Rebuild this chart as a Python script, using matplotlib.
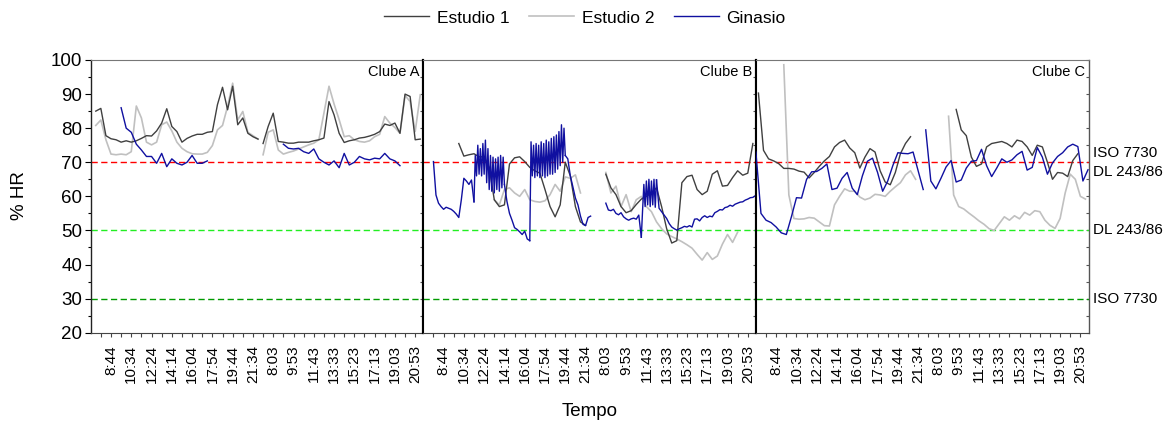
import numpy as np
import matplotlib
matplotlib.use("Agg")
import matplotlib.pyplot as plt
from matplotlib.ticker import MultipleLocator, FixedLocator
from matplotlib.transforms import blended_transform_factory

plt.rcParams["font.family"] = ["Liberation Sans", "DejaVu Sans"]

# clock labels under each panel (two days of logging, nights left out)
hours = ["8:44", "10:34", "12:24", "14:14", "16:04", "17:54", "19:44", "21:34",
         "8:03", "9:53", "11:43", "13:33", "15:23", "17:13", "19:03", "20:53"]
clubs = ["Clube A", "Clube B", "Clube C"]
series = ["Estudio 1", "Estudio 2", "Ginasio"]

# Relative humidity (%). Every logging run is (time of first reading in tick
# units from the panel's left edge, readings every half tick); runs with three
# entries give their own reading interval.
est1_a = [(0.5, [85.0, 85.8, 77.8, 76.9, 76.6, 75.9, 76.3, 75.9, 76.3, 77.0, 77.8,
                 77.7, 79.2, 81.5, 85.7, 80.5, 79.0, 75.9, 77.0, 77.7, 78.2, 78.2,
                 78.8, 79.0, 86.9, 92.0, 85.4, 92.3, 81.0, 83.0, 78.5, 77.5, 76.8]),
          (17.0, [75.5, 80.5, 84.4, 76.1, 75.9, 75.6, 75.6, 75.9, 75.9, 75.9, 76.3,
                  76.6, 77.1, 87.8, 83.9, 78.5, 75.8, 76.3, 76.6, 77.1, 77.3, 77.7,
                  78.2, 79.0, 81.2, 80.8, 81.5, 78.5, 90.0, 89.3, 76.6, 76.8])]
est2_a = [(0.5, [80.8, 82.4, 76.6, 72.4, 72.2, 72.4, 72.2, 73.1, 86.5, 83.0, 75.9,
                 75.1, 75.9, 81.0, 81.8, 79.2, 75.9, 74.1, 73.1, 72.5, 72.4, 72.4,
                 72.9, 74.9, 79.5, 80.8, 86.4, 93.2, 82.4, 84.9, 78.8, 77.8, 76.8]),
          (17.0, [72.2, 78.8, 79.5, 73.6, 72.4, 72.9, 73.3, 73.9, 74.5, 75.1, 75.6,
                  76.6, 84.4, 92.3, 87.1, 82.5, 77.5, 77.8, 76.6, 76.1, 75.9, 76.3,
                  77.5, 78.2, 83.4, 81.5, 80.2, 78.5, 89.6, 87.8, 79.0, 89.8])]
gin_a = [(3.0, [86.0, 80.0, 78.8, 75.3, 73.6, 71.7, 71.7, 69.7, 72.6, 68.7, 71.0,
                69.7, 69.2, 70.0, 72.0, 69.7, 69.7, 70.4]),
         (19.0, [75.3, 74.1, 73.9, 74.1, 73.1, 72.6, 73.9, 71.0, 70.0, 69.2, 70.4,
                 68.4, 72.6, 69.2, 70.0, 71.7, 71.0, 70.7, 71.2, 71.0, 72.6, 71.0,
                 70.4, 69.0])]

est1_b = [(3.5, [75.5, 71.8, 72.2, 72.5, 71.6, 71.6, 68.5, 59.0, 57.0, 57.5, 69.5,
                 71.3, 71.6, 70.2, 68.5, 67.5, 66.8, 62.0, 57.0, 54.0, 57.5, 70.0,
                 66.0, 57.0, 52.5, 51.5]),
          (18.0, [66.5, 62.5, 60.5, 57.0, 55.2, 55.8, 57.6, 59.2, 60.0, 61.0, 62.5,
                  57.0, 50.5, 46.3, 47.0, 64.0, 65.8, 66.2, 62.0, 60.5, 61.5, 66.5,
                  67.5, 63.0, 63.2, 65.5, 67.5, 66.2, 66.8, 75.5])]
est2_b = [(7.0, [59.0, 57.5, 62.0, 62.5, 61.0, 60.0, 62.0, 59.0, 58.5, 58.3, 58.7,
                 60.5, 63.5, 61.5, 65.7, 65.3, 66.3, 61.0]),
          (18.0, [67.0, 61.0, 63.0, 57.0, 60.5, 55.5, 59.0, 60.0, 57.0, 55.5, 52.5,
                  50.5, 49.0, 48.2, 47.5, 46.7, 45.8, 44.8, 43.0, 41.3, 43.5, 41.5,
                  42.5, 46.0, 48.8, 46.5, 49.5])]
# Ginasio B: finer readings where the humidity swings quickly
gin_b = [(1.0, 0.25, [70.2, 60.4, 58.0, 57.0, 56.2, 56.8, 56.5, 56.2, 55.6, 54.8,
                      53.8, 59.0, 65.3, 64.5, 63.5, 64.8, 58.4]),
         (5.0, 0.125, [58.4, 72.0, 66.0, 75.0, 66.5, 74.0, 66.0, 75.5, 66.5, 76.5,
                       64.0, 74.0, 62.0, 72.0, 61.5, 71.5, 61.0, 71.0, 62.0, 71.5,
                       61.5, 72.0, 62.5, 71.5, 63.5]),
         (8.0, 0.25, [63.5, 58.5, 55.0, 53.0, 50.8, 50.3, 49.6, 48.8, 49.8, 47.5,
                      47.0]),
         (10.5, 0.125, [47.0, 76.0, 66.0, 75.0, 65.5, 75.5, 66.0, 75.0, 65.5, 76.0,
                        66.0, 75.5, 65.5, 76.5, 66.0, 76.0, 66.5, 77.0, 66.5, 77.5,
                        67.0, 78.0, 68.0, 79.0, 69.0, 81.0, 70.0, 80.0, 72.0]),
         (14.0, 0.25, [72.0, 71.0, 66.0, 62.8, 59.5, 57.5, 54.2, 51.8, 51.4, 53.8,
                       54.2]),
         (18.0, 0.25, [58.0, 56.0, 55.8, 56.2, 55.0, 54.6, 55.2, 54.0, 53.4, 53.0,
                       53.4, 53.6, 53.3, 54.5, 48.0]),
         (21.5, 0.125, [48.0, 56.0, 63.5, 57.0, 64.5, 57.5, 65.0, 57.0, 64.5, 57.5,
                        65.0, 56.8, 64.8]),
         (23.0, 0.25, [64.8, 56.5, 55.5, 54.5, 53.5, 52.0, 51.0, 50.5, 50.1, 50.5,
                       50.8, 51.2, 51.0, 51.4, 51.0, 53.3, 53.4, 52.8, 53.8, 54.3,
                       53.8, 54.2, 54.0, 55.2, 55.6, 56.1, 56.0, 56.7, 56.9, 57.4,
                       57.1, 57.7, 58.0, 58.3, 58.4, 58.9, 59.2, 59.6, 59.7, 60.2])]

est1_c = [(0.25, [90.3, 73.5, 71.0, 70.4, 69.6, 68.2, 68.2, 68.0, 67.4, 67.1, 65.4,
                  67.0, 68.8, 70.4, 71.7, 74.5, 75.8, 76.5, 74.2, 72.8, 68.3, 71.5,
                  74.0, 73.0, 67.5, 64.2, 63.4, 67.0, 72.5, 75.5, 77.5]),
          (19.75, [85.5, 79.5, 77.8, 71.5, 68.8, 69.5, 74.5, 75.5, 75.8, 76.1, 75.5,
                   74.5, 76.5, 76.1, 74.5, 72.0, 75.0, 74.5, 70.0, 65.0, 67.0, 66.8,
                   65.8, 70.5, 72.5])]
est2_c = [(2.75, [98.6, 60.4, 53.5, 53.3, 53.4, 53.8, 53.6, 52.5, 51.4, 51.3, 57.5,
                  60.0, 62.2, 61.5, 61.5, 59.8, 59.0, 59.5, 60.6, 60.4, 60.0, 61.5,
                  62.8, 64.0, 66.3, 67.5, 65.0]),
          (19.0, [83.5, 60.4, 57.0, 56.3, 55.1, 54.0, 52.8, 51.8, 50.5, 50.0, 52.0,
                  54.0, 53.0, 54.3, 53.4, 55.3, 54.5, 55.8, 55.5, 53.0, 51.5, 50.6,
                  53.5, 61.0, 66.5, 65.0, 60.0, 59.2])]
gin_c = [(0.0, [73.0, 55.0, 53.0, 52.3, 51.0, 49.3, 48.8, 54.0, 59.6, 59.5, 65.0,
                67.2, 67.3, 68.2, 69.5, 62.0, 62.4, 65.3, 67.0, 62.4, 60.5, 66.0,
                70.3, 71.2, 67.0, 61.5, 64.5, 69.0, 72.8, 72.6, 72.5, 73.0, 67.5,
                62.0]),
         (16.75, [79.5, 64.5, 62.2, 65.3, 68.6, 70.5, 64.2, 64.8, 68.3, 70.3, 70.5,
                  73.8, 69.0, 65.8, 68.3, 71.0, 70.0, 70.7, 72.2, 73.2, 67.7, 68.5,
                  74.3, 71.5, 66.5, 69.8, 71.7, 72.8, 74.5, 75.3, 74.6, 64.5, 67.8])]

panels = [(est1_a, est2_a, gin_a), (est1_b, est2_b, gin_b), (est1_c, est2_c, gin_c)]

# comfort limits (%): value, colour, right-hand labels
limit_values = [70, 50, 30]
limit_colors = ["#ff0000", "#22ee22", "#009a00"]
limit_labels = ["ISO 7730", "DL 243/86", "DL 243/86", "ISO 7730"]
limit_label_y = [72.8, 67.0, 50.0, 30.0]

colors = ["#404040", "#c0c0c0", "#1010a0"]
widths = [1.0, 1.2, 1.0]
zorders = [3, 2, 4]

W, H = 1164, 421
fig = plt.figure(figsize=(W / 100, H / 100), dpi=100)
x0, x1, ytop, ybot = 90.7, 1088.5, 60.0, 332.7
pw = (x1 - x0) / 3
span = 32.8

axes = []
handles = []
for k, club_series in enumerate(panels):
    ax = fig.add_axes([(x0 + k * pw) / W, (H - ybot) / H, pw / W, (ybot - ytop) / H],
                      sharey=axes[0] if axes else None)
    axes.append(ax)
    for v, c in zip(limit_values, limit_colors):
        ax.axhline(v, color=c, lw=1.0, ls=(0, (4.5, 2.5)), zorder=1)
    for j, runs in enumerate(club_series):
        for run in runs:
            t0, vals = run[0], run[-1]
            step = run[1] if len(run) == 3 else 0.5
            t = t0 + step * np.arange(len(vals))
            ln, = ax.plot(t, vals, color=colors[j], lw=widths[j], zorder=zorders[j])
        if k == 0:
            handles.append(ln)

    ax.set_xlim(0, span)
    ax.set_ylim(20, 100)
    ax.xaxis.set_major_locator(FixedLocator(np.arange(2, 33, 2)))
    ax.xaxis.set_minor_locator(FixedLocator(np.arange(1, 33, 2)))
    ax.set_xticklabels(hours, rotation=90, fontsize=11)
    ax.tick_params(axis="x", which="both", direction="out", length=3, width=0.8,
                   color="#444444", pad=6)

    ax.yaxis.set_major_locator(MultipleLocator(10))
    ax.yaxis.set_minor_locator(MultipleLocator(5))
    if k == 0:
        ax.tick_params(axis="y", which="major", direction="out", length=4, width=0.8,
                       labelsize=13.5, pad=2)
        ax.tick_params(axis="y", which="minor", direction="out", length=2.5, width=0.8)
    else:
        ax.tick_params(axis="y", which="both", left=False, labelleft=False)

    # inward ticks along the right edge of each panel
    sec = ax.secondary_yaxis("right")
    sec.yaxis.set_major_locator(MultipleLocator(5))
    sec.tick_params(direction="in", length=2.5, width=0.8, labelright=False,
                    color="#555555")
    sec.spines["right"].set_visible(False)

    ax.spines["top"].set_color("#777777")
    ax.spines["bottom"].set_color("#444444")
    ax.spines["left"].set_color("#222222" if k == 0 else "black")
    ax.spines["left"].set_linewidth(1.0 if k == 0 else 1.5)
    ax.spines["right"].set_color("#555555" if k == 2 else "black")
    ax.spines["right"].set_linewidth(1.0 if k == 2 else 1.5)

    ax.text(0.988, 0.955, clubs[k], transform=ax.transAxes, ha="right", va="center",
            fontsize=10.5)

tr = blended_transform_factory(axes[2].transAxes, axes[2].transData)
for lab, yv in zip(limit_labels, limit_label_y):
    axes[2].text(1.013, yv, lab, transform=tr, ha="left", va="center", fontsize=11,
                 clip_on=False)

fig.legend(handles, series, loc="center", bbox_to_anchor=(585 / W, 1 - 18 / H),
           ncol=3, frameon=False, fontsize=12.5, handlelength=2.6,
           handletextpad=0.45, columnspacing=1.1)

fig.text(20 / W, 1 - 196 / H, "% HR", rotation=90, ha="center", va="center",
         fontsize=13.5)
fig.text(590 / W, 1 - 411 / H, "Tempo", ha="center", va="center", fontsize=13.5)

fig.savefig("out.png", dpi=100)
